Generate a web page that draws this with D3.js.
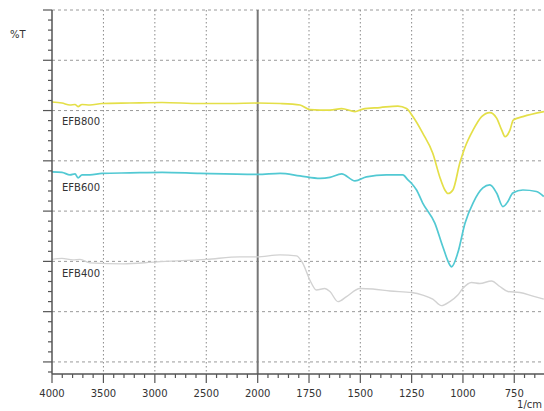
<!DOCTYPE html>
<html>
<head>
<meta charset="utf-8">
<script src="https://cdn.jsdelivr.net/npm/d3@7"></script>
<style>
  body { margin: 0; background: #fff; }
  text { font-family: "DejaVu Sans", sans-serif; fill: #333; }
</style>
</head>
<body>
<svg width="544" height="411"></svg>
<script>
// wavenumber (1/cm) and transmittance readings for each sample
var efb800Wn = [4000,3903,3825,3776,3747,3708,3631,3514,3242,2930,2561,2269,2000,1891,1794,1746,1648,1591,1526,1488,1404,1317,1275,1244,1196,1147,1113,1088,1073,1049,1015,990,951,909,869,836,811,795,771,755,708,605];
var efb800T  = [51.7,51.5,51.1,51.2,50.8,51.2,51.1,51.4,51.5,51.6,51.4,51.4,51.5,51.4,51.1,50.2,50.1,50.4,49.8,50.3,50.6,50.9,50.4,48.8,45.5,41.5,36.8,34.2,33.5,34.2,39.6,42.7,46.1,48.8,49.6,48.5,46.1,44.8,46.1,48.1,48.8,49.8];

var efb600Wn = [4000,3903,3825,3776,3747,3708,3631,3514,3242,2930,2561,2000,1891,1794,1696,1648,1591,1526,1470,1373,1293,1268,1250,1226,1196,1137,1098,1064,1056,1025,990,951,903,869,836,805,781,757,708,642,606];
var efb600T  = [37.8,37.7,37.2,37.4,36.6,37.2,37.2,37.5,37.6,37.7,37.5,37.3,37.5,37.0,36.5,36.7,37.4,36.0,36.8,37.2,37.2,36.2,35.5,34.2,31.6,27.6,22.9,19.3,18.9,21.7,27.6,31.6,34.6,35.2,33.6,30.9,31.9,33.6,34.2,33.9,32.9];

var efb400Wn = [4000,3903,3796,3728,3631,3310,2982,2496,2172,2010,1891,1811,1780,1746,1714,1673,1648,1609,1567,1502,1439,1355,1250,1196,1147,1105,1064,1025,1001,958,918,861,820,781,723,659,606];
var efb400T  = [20.4,20.6,20.3,20.4,19.7,19.5,19.9,20.4,20.9,20.9,21.3,21.1,19.6,16.3,14.3,14.6,14.0,12.0,13.0,14.6,14.5,14.1,13.8,13.3,12.5,11.2,12.0,13.3,14.6,15.8,15.6,16.1,15.0,14.0,13.8,13.1,12.5];

var seriesNames = ["EFB800", "EFB600", "EFB400"];
var xMajor = [4000,3500,3000,2500,2000,1750,1500,1250,1000,750];

var svg = d3.select("svg");
var plotLeft = 52, plotTop = 10, plotBottom = 374, plotRight = 544;

// FTIR style axis: scale doubles below 2000
var x = d3.scaleLinear().domain([4000, 2000, 400]).range([plotLeft, 257.7, 586.1]);
var y = d3.scaleLinear().domain([-2.4, 70]).range([plotBottom, plotTop]);

svg.append("defs").append("clipPath").attr("id", "plot")
  .append("rect").attr("x", plotLeft).attr("y", plotTop)
  .attr("width", plotRight - plotLeft).attr("height", plotBottom - plotTop);

// horizontal dashed grid
svg.append("g").selectAll("line")
  .data(d3.range(0, 71, 10))
  .enter().append("line")
  .attr("x1", plotLeft).attr("x2", plotRight)
  .attr("y1", function(d) { return y(d); }).attr("y2", function(d) { return y(d); })
  .attr("stroke", "#9a9a9a").attr("stroke-width", 1).attr("stroke-dasharray", "3,3");

// vertical dotted grid
svg.append("g").selectAll("line")
  .data(xMajor.filter(function(d) { return d != 4000 && d != 2000; }))
  .enter().append("line")
  .attr("x1", function(d) { return x(d); }).attr("x2", function(d) { return x(d); })
  .attr("y1", plotTop).attr("y2", plotBottom)
  .attr("stroke", "#8a8a8a").attr("stroke-width", 1).attr("stroke-dasharray", "1.5,2.5");

// solid break line at 2000
svg.append("line")
  .attr("x1", x(2000)).attr("x2", x(2000)).attr("y1", plotTop).attr("y2", plotBottom)
  .attr("stroke", "#777").attr("stroke-width", 2);

// spectra
var line = d3.line()
  .x(function(d) { return x(d[0]); })
  .y(function(d) { return y(d[1]); })
  .curve(d3.curveMonotoneX);

var spectra = [
  { wn: efb400Wn, t: efb400T, color: "#d2d2d2", w: 1.4 },
  { wn: efb600Wn, t: efb600T, color: "#52c9d3", w: 1.7 },
  { wn: efb800Wn, t: efb800T, color: "#e4df48", w: 1.7 }
];
svg.append("g").attr("clip-path", "url(#plot)").selectAll("path")
  .data(spectra)
  .enter().append("path")
  .attr("fill", "none")
  .attr("stroke", function(d) { return d.color; })
  .attr("stroke-width", function(d) { return d.w; })
  .attr("d", function(d) { return line(d.wn.map(function(w, i) { return [w, d.t[i]]; })); });

// y axis with minor ticks
var yAxis = svg.append("g");
yAxis.append("line").attr("x1", plotLeft).attr("x2", plotLeft).attr("y1", plotTop).attr("y2", plotBottom)
  .attr("stroke", "#555").attr("stroke-width", 1.5);
yAxis.selectAll("line.tick")
  .data(d3.range(-2, 71, 2))
  .enter().append("line").attr("class", "tick")
  .attr("x1", function(d) { return d % 10 == 0 ? plotLeft - 9 : plotLeft - 4; }).attr("x2", plotLeft)
  .attr("y1", function(d) { return y(d); }).attr("y2", function(d) { return y(d); })
  .attr("stroke", "#555").attr("stroke-width", 1.2);

// x axis with minor ticks
var xMinor = d3.range(4000, 2000, -100).concat(d3.range(2000, 599, -50));
var xAxis = svg.append("g");
xAxis.append("line").attr("x1", plotLeft).attr("x2", plotRight).attr("y1", plotBottom).attr("y2", plotBottom)
  .attr("stroke", "#555").attr("stroke-width", 1.5);
xAxis.selectAll("line.tick")
  .data(xMinor)
  .enter().append("line").attr("class", "tick")
  .attr("x1", function(d) { return x(d); }).attr("x2", function(d) { return x(d); })
  .attr("y1", plotBottom)
  .attr("y2", function(d) { return xMajor.indexOf(d) >= 0 ? plotBottom + 9 : plotBottom + 4; })
  .attr("stroke", "#555").attr("stroke-width", 1.2);
xAxis.selectAll("text")
  .data(xMajor)
  .enter().append("text")
  .attr("x", function(d) { return x(d); }).attr("y", 397)
  .attr("text-anchor", "middle").attr("font-size", 10)
  .text(function(d) { return d; });

svg.append("text").attr("x", 542).attr("y", 408).attr("text-anchor", "end")
  .attr("font-size", 10).text("1/cm");
svg.append("text").attr("x", 10).attr("y", 38).attr("font-size", 10).text("%T");

// sample labels
var labelY = [125, 191, 277];
svg.append("g").selectAll("text")
  .data(seriesNames)
  .enter().append("text")
  .attr("x", 62).attr("y", function(d, i) { return labelY[i]; })
  .attr("font-size", 10).attr("fill", "#222")
  .text(function(d) { return d; });
</script>
</body>
</html>
